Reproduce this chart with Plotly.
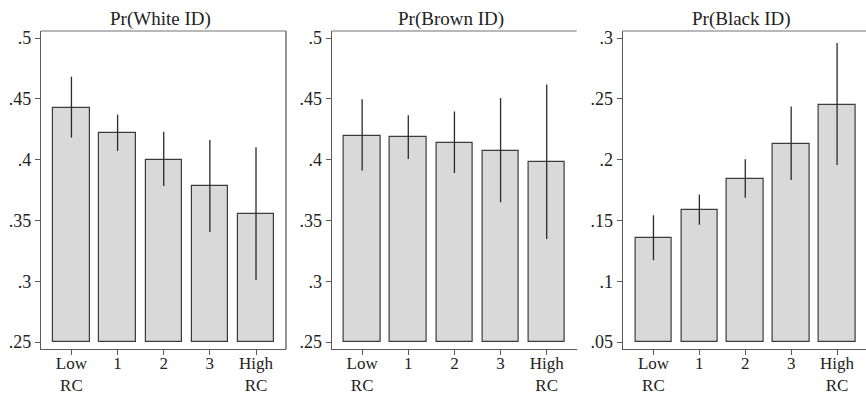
import plotly.graph_objects as go

categories = ["Low<br>RC", "1", "2", "3", "High<br>RC"]
titles = ["Pr(White ID)", "Pr(Brown ID)", "Pr(Black ID)"]

white = [0.4428, 0.4219, 0.4000, 0.3780, 0.3550]
white_hi = [0.4682, 0.4370, 0.4230, 0.4161, 0.4101]
white_lo = [0.4181, 0.4071, 0.3783, 0.3405, 0.3010]

brown = [0.4197, 0.4183, 0.4140, 0.4071, 0.3978]
brown_hi = [0.4496, 0.4364, 0.4395, 0.4507, 0.4617]
brown_lo = [0.3910, 0.4005, 0.3890, 0.3649, 0.3347]

black = [0.1355, 0.1586, 0.1840, 0.2128, 0.2452]
black_hi = [0.1542, 0.1712, 0.2003, 0.2436, 0.2959]
black_lo = [0.1172, 0.1465, 0.1687, 0.1832, 0.1956]

bases = [0.25, 0.25, 0.05]
ytickvals = [[0.25, 0.30, 0.35, 0.40, 0.45, 0.50],
             [0.25, 0.30, 0.35, 0.40, 0.45, 0.50],
             [0.05, 0.10, 0.15, 0.20, 0.25, 0.30]]
yticktext = [[".25", ".3", ".35", ".4", ".45", ".5"],
             [".25", ".3", ".35", ".4", ".45", ".5"],
             [".05", ".1", ".15", ".2", ".25", ".3"]]

series = [(white, white_hi, white_lo), (brown, brown_hi, brown_lo), (black, black_hi, black_lo)]

W, H = 866, 394
FONT = "Liberation Serif"
AXC = "#5a5a5a"
BORDER = "#a0a0a0"

# pixel layout
left_px = [41, 331.7, 622.7]
right_px = [286, 576.7, 866]
xranges = [[-0.66, 4.65], [-0.66, 4.65], [-0.67, 4.63]]
top_px, bot_px = 31, 349
ydom = [(H - bot_px) / H, (H - top_px) / H]

fig = go.Figure()
xs = list(range(len(categories)))
shapes = []
annotations = []
for i, ((vals, hi, lo), base) in enumerate(zip(series, bases)):
    n = "" if i == 0 else str(i + 1)
    xa, ya = "x" + n, "y" + n
    fig.add_trace(go.Bar(
        x=xs, y=[v - base for v in vals], base=base,
        width=0.79,
        marker=dict(color="#d9d9d9", line=dict(color="#3c3c3c", width=1.2)),
        xaxis=xa, yaxis=ya, showlegend=False,
    ))
    fig.add_trace(go.Scatter(
        x=xs, y=vals, mode="markers",
        marker=dict(size=1, opacity=0),
        error_y=dict(type="data", symmetric=False,
                     array=[h - v for h, v in zip(hi, vals)],
                     arrayminus=[v - l for v, l in zip(vals, lo)],
                     width=0, thickness=1.3, color="#2a2a2a"),
        xaxis=xa, yaxis=ya, showlegend=False, hoverinfo="skip",
    ))
    yr = [bases[i] - 7 / 1216, ytickvals[i][-1] + 7 / 1216]
    xd = [left_px[i] / W, min(right_px[i] / W, 1.0)]
    fig.update_layout(**{
        ("xaxis" + n): dict(
            domain=xd, range=xranges[i], tickvals=xs, ticktext=categories,
            showline=True, linecolor=AXC, linewidth=1.3,
            ticks="outside", ticklen=5, tickcolor=AXC, tickwidth=1,
            showgrid=False, zeroline=False, anchor=ya, automargin=False,
            ticklabelstandoff=-7,
            tickfont=dict(family=FONT, size=17, color="#222"),
            fixedrange=True,
        ),
        ("yaxis" + n): dict(
            domain=ydom, range=yr, tickvals=ytickvals[i], ticktext=yticktext[i],
            showline=True, linecolor=AXC, linewidth=1.3,
            ticks="outside", ticklen=5, tickcolor=AXC, tickwidth=1,
            showgrid=False, zeroline=False, anchor=xa, automargin=False,
            tickfont=dict(family=FONT, size=18, color="#222"),
            fixedrange=True,
        ),
    })
    # top border
    shapes.append(dict(type="line", xref=xa + " domain", yref=ya + " domain",
                       x0=0, x1=1, y0=1, y1=1,
                       line=dict(color=BORDER, width=1.5)))
    if i == 0:
        shapes.append(dict(type="line", xref=xa + " domain", yref=ya + " domain",
                           x0=1, x1=1, y0=0, y1=1,
                           line=dict(color="#707070", width=1.5)))
    annotations.append(dict(
        text=titles[i], xref="paper", yref="paper",
        x=(left_px[i] + min(right_px[i], 866)) / 2 / W - 3 / W, y=(H - 19) / H,
        xanchor="center", yanchor="middle", showarrow=False,
        font=dict(family=FONT, size=19, color="#222"),
    ))

fig.update_layout(
    template="none",
    width=W, height=H, margin=dict(l=0, r=0, t=0, b=0, autoexpand=False),
    paper_bgcolor="white", plot_bgcolor="white",
    font=dict(family=FONT),
    shapes=shapes, annotations=annotations, bargap=0,
)
fig.write_html("out.html")
